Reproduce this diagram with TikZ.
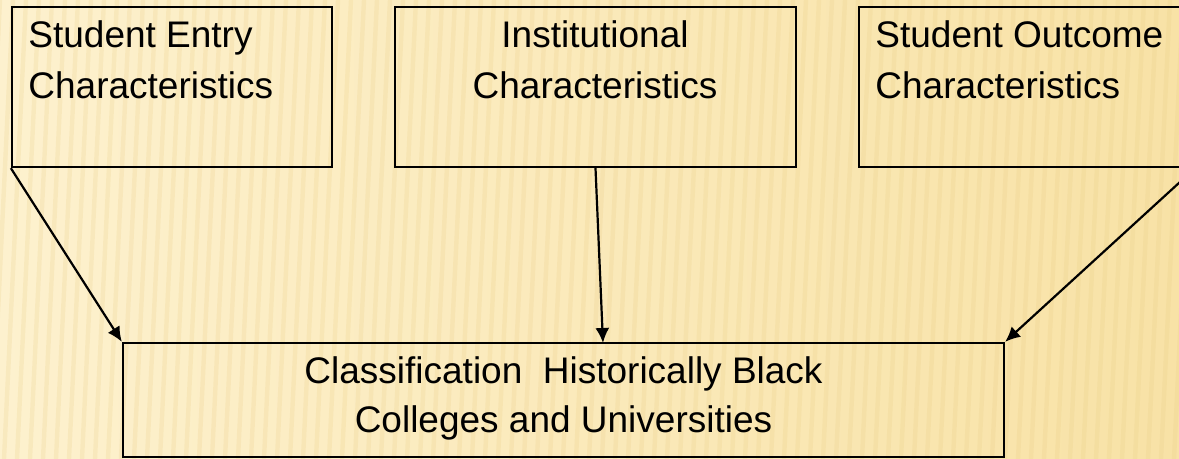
\documentclass[tikz,border=0pt]{standalone}
\usepackage{fontspec}
\setmainfont{Liberation Sans}
\usetikzlibrary{arrows.meta}
\usetikzlibrary{positioning}
\definecolor{slidebg}{RGB}{253,241,206}
\definecolor{slidebgdark}{RGB}{248,226,166}
\definecolor{stripe}{RGB}{232,202,128}

\begin{document}
\begin{tikzpicture}[x=0.5pt,y=-0.5pt,
		box/.style={draw=black, line width=1.15pt, inner sep=0pt},
		boxtext/.style={inner sep=0pt, font=\fontsize{18.5}{25.5}\selectfont},
		link/.style={-{Latex[length=7.5pt,width=7pt]}, line width=1.1pt}]

		% background
		\useasboundingbox (0,0) rectangle (1179,459);
		\clip (0,0) rectangle (1179,459);
		\shade[left color=slidebg, right color=slidebgdark] (0,0) rectangle (1179,459);
		\foreach \s in {0,13,...,1210}
			\draw[stripe, opacity=0.2, line width=2.2pt] (\s-22,459) -- (\s,0);

		\node[box, minimum width=160pt, minimum height=80pt] (entry) at (172,87) {};
		\node[box, minimum width=200.5pt, minimum height=80pt] (inst) at (595.5,87) {};
		\node[box, minimum width=167.5pt, minimum height=80pt] (outcome) at (1026.5,87) {};
		\node[box, minimum width=440.5pt, minimum height=57pt] (hbcu) at (563.5,400) {};

		\node[boxtext, anchor=north west, align=left] (entrytext) at (28,20) {Student Entry\\Characteristics};
		\node[boxtext, anchor=north, align=center] (insttext) at (595,20) {Institutional\\Characteristics};
		\node[boxtext, anchor=north west, align=left] (outcometext) at (875,20) {Student Outcome\\Characteristics};
		\node[boxtext, anchor=north, align=center, font=\fontsize{18.5}{24.5}\selectfont] (hbcutext) at (563.5,356) {Classification\ \ Historically Black\\Colleges and Universities};

		\coordinate (instin) at (603,343);
		\draw[link] (entry.south west) -- (hbcu.north west);
		\draw[link] (inst.south) -- (instin);
		\draw[link] (outcome.south east) -- (hbcu.north east);
	\end{tikzpicture}
\end{document}
